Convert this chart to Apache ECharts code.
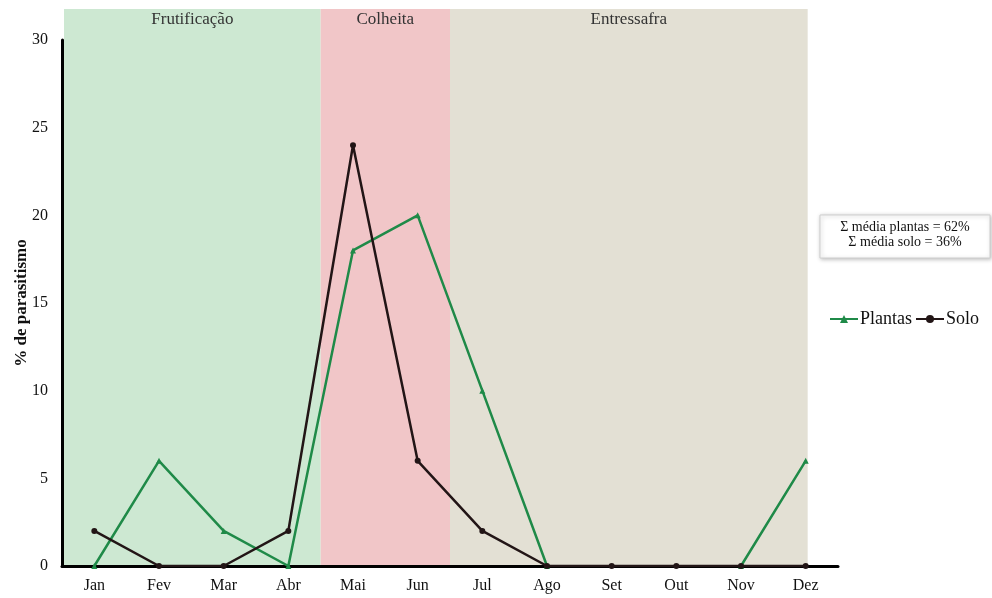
<!DOCTYPE html>
<html>
<head>
<meta charset="utf-8">
<script src="https://cdn.jsdelivr.net/npm/echarts@6/dist/echarts.min.js"></script>
<style>
html,body{margin:0;padding:0;background:#fff;}
#chart{width:992px;height:598px;}
</style>
</head>
<body>
<div id="chart"></div>
<script>
const months = ['Jan','Fev','Mar','Abr','Mai','Jun','Jul','Ago','Set','Out','Nov','Dez'];
const plantas = [0, 6, 2, 0, 18, 20, 10, 0, null, null, 0, 6];
const solo = [2, 0, 0, 2, 24, 6, 2, 0, 0, 0, 0, 0];
const phases = [
  {name:'Frutificação', from:0, to:3, color:'#cde8d2'},
  {name:'Colheita', from:4, to:5, color:'#f1c6c8'},
  {name:'Entressafra', from:6, to:11, color:'#e3e0d4'}
];
const yTicks = {min:0, max:30, interval:5};
const summary = ['Σ média plantas = 62%', 'Σ média solo = 36%'];

const FONT = 'Liberation Serif';
const chart = echarts.init(document.getElementById('chart'));
const option = {
  backgroundColor:'#ffffff',
  animation:false,
  textStyle:{fontFamily:FONT},
  grid:{left:62, right:154, top:40, bottom:32, containLabel:false, outerBoundsMode:'none'},
  legend:{
    left:829, top:310, width:170, orient:'horizontal', itemGap:3, itemWidth:28, itemHeight:10,
    padding:0,
    textStyle:{fontFamily:FONT, fontSize:18, color:'#111', padding:[0,0,0,-3]},
    data:['Plantas','Solo']
  },
  xAxis:{
    type:'category', data:months, boundaryGap:true,
    axisLine:{lineStyle:{color:'#000', width:3}},
    axisTick:{show:false},
    axisLabel:{fontFamily:FONT, fontSize:16, color:'#111', margin:12},
    splitLine:{show:false}
  },
  yAxis:{
    type:'value', min:yTicks.min, max:yTicks.max, interval:yTicks.interval,
    name:'% de parasitismo', nameLocation:'middle', nameGap:32, nameMoveOverlap:false,
    nameTextStyle:{fontFamily:FONT, fontSize:17, fontWeight:'bold', color:'#111'},
    axisLine:{show:true, lineStyle:{color:'#000', width:3}},
    axisTick:{show:false},
    axisLabel:{fontFamily:FONT, fontSize:16, color:'#111', margin:14},
    splitLine:{show:false}
  },
  series:[
    {name:'Plantas', type:'line', data:plantas, symbol:'triangle', symbolSize:6, connectNulls:false,
     lineStyle:{color:'#1f8a48', width:2.5}, itemStyle:{color:'#1f8a48'}, z:3},
    {name:'Solo', type:'line', data:solo, symbol:'circle', symbolSize:6,
     lineStyle:{color:'#221516', width:2.5}, itemStyle:{color:'#221516'}, z:4}
  ]
};
chart.setOption(option);

function drawBands(){
  const px = i => chart.convertToPixel({xAxisIndex:0}, i);
  const step = px(1) - px(0);
  const yBottom = chart.convertToPixel({yAxisIndex:0}, 0);
  const top = 9;
  const els = [];
  phases.forEach((p, k) => {
    const x0 = k === 0 ? px(p.from) - step/2 + 2 : (px(p.from-1) + px(p.from))/2;
    const x1 = k === phases.length-1 ? px(p.to) + 2 : (px(p.to) + px(p.to+1))/2;
    els.push({type:'rect', z:-10, silent:true,
      shape:{x:x0, y:top, width:x1-x0, height:yBottom-top},
      style:{fill:p.color}});
    els.push({type:'text', z:-9, silent:true,
      x:(x0+x1)/2, y:top+11,
      style:{text:p.name, fill:'#333', font:'17px "'+FONT+'"', align:'center', verticalAlign:'middle'}});
  });
  els.push({type:'rect', z:5, silent:true,
    shape:{x:820, y:215, width:170, height:43},
    style:{fill:'#fff', stroke:'#cfcfcf', lineWidth:1, shadowBlur:4, shadowColor:'rgba(0,0,0,0.25)', shadowOffsetX:1, shadowOffsetY:1}});
  summary.forEach((t, i) => {
    els.push({type:'text', z:6, silent:true, x:905, y:227 + i*15,
      style:{text:t, fill:'#111', font:'14px "'+FONT+'"', align:'center', verticalAlign:'middle'}});
  });
  chart.setOption({graphic:{elements:els}});
}
drawBands();
</script>
</body>
</html>
